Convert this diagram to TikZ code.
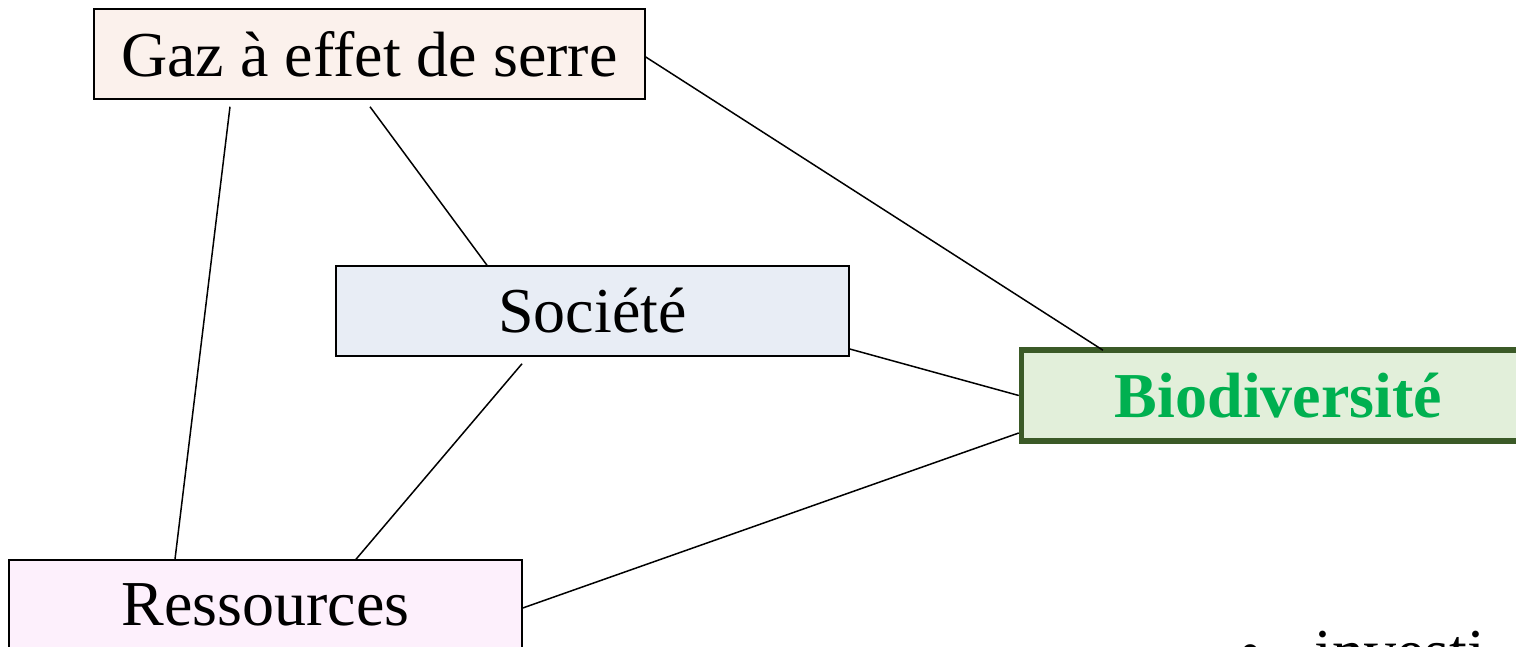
\documentclass[tikz,border=0pt]{standalone}
\usepackage{fontspec}
\setmainfont{Liberation Serif}
\definecolor{gazfill}{HTML}{FBF1EC}
\definecolor{socfill}{HTML}{E8EDF5}
\definecolor{biofill}{HTML}{E2EFDA}
\definecolor{bioline}{HTML}{3B5A27}
\definecolor{biotext}{HTML}{00B050}
\definecolor{resfill}{HTML}{FDF0FC}
\begin{document}
\begin{tikzpicture}[x=1pt,y=-1pt,
  box/.style={draw=black,line width=1.5pt,minimum height=90pt,inner sep=0pt,
    font=\fontsize{64}{70}\selectfont,anchor=center},
  link/.style={draw=black,line width=1.5pt}]
\useasboundingbox (0,0) rectangle (1516,647);
\clip (0,0) rectangle (1516,647);
\node[box,fill=gazfill,minimum width=551pt] (gaz) at (369.5,54) {Gaz à effet de serre};
\node[box,fill=socfill,minimum width=513pt] (soc) at (592.5,311) {Société};
\node[box,fill=resfill,minimum width=513pt] (res) at (265.5,605) {Ressources};
\node[box,fill=biofill,draw=bioline,line width=5.5pt,minimum width=514pt,minimum height=91pt,
  text=biotext,font=\fontsize{64}{70}\selectfont\bfseries] (bio) at (1278.5,395.5) {Biodiversité};
\node[anchor=base west,inner sep=0pt,font=\fontsize{64}{70}\selectfont] (inv) at (1239,673) {•\hspace{53pt}investi};
\draw[link] ([xshift=-139.5pt,yshift=-7pt]gaz.south) -- ([xshift=-90.5pt]res.north);
\draw[link] ([xshift=0.5pt,yshift=-7pt]gaz.south) -- ([xshift=-105.5pt]soc.north);
\draw[link] ([yshift=-3pt]gaz.east) -- ([xshift=-175.5pt,yshift=-3pt]bio.north);
\draw[link] ([yshift=-38pt]soc.east) -- (bio.west);
\draw[link] ([xshift=-70.5pt,yshift=-7pt]soc.south) -- ([xshift=90.5pt]res.north);
\draw[link] ([yshift=-3pt]res.east) -- ([yshift=-37.5pt]bio.west);
\end{tikzpicture}
\end{document}
